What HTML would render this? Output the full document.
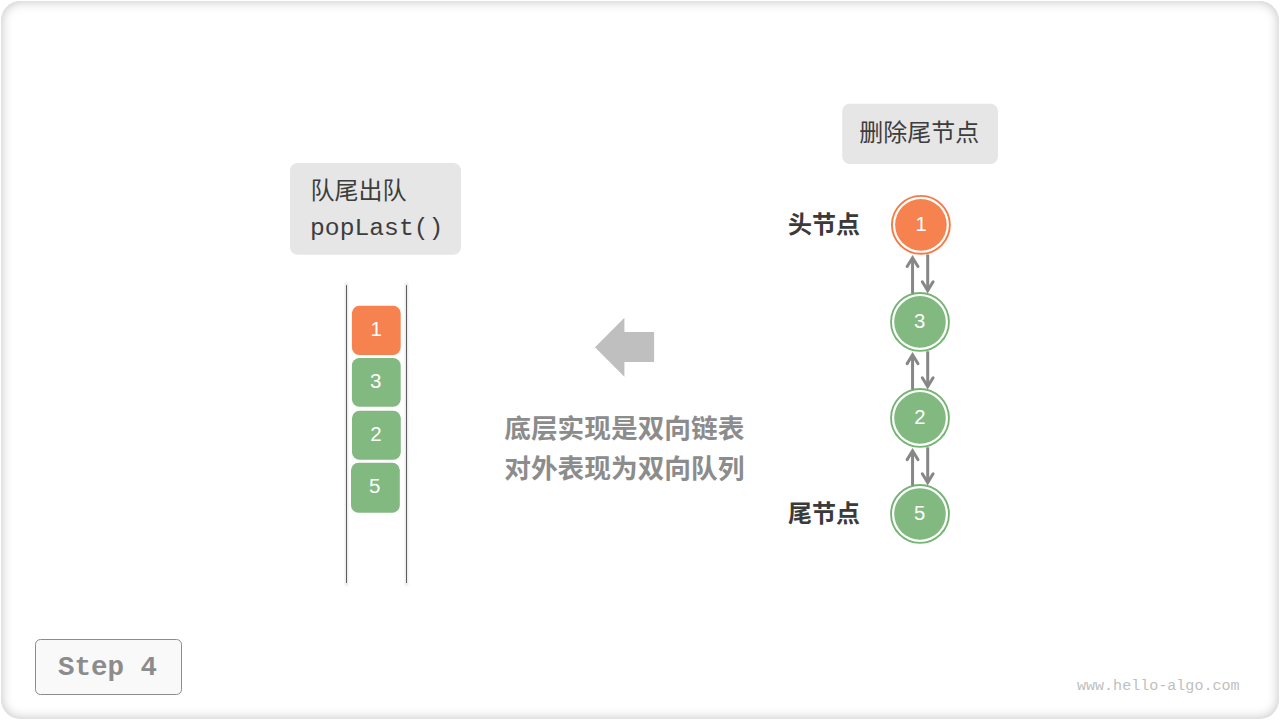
<!DOCTYPE html>
<html lang="zh"><head><meta charset="utf-8"><title>popLast</title>
<style>
html,body{margin:0;padding:0;background:#fff;width:1280px;height:720px;overflow:hidden;font-family:"Liberation Sans",sans-serif}
#card{position:absolute;left:1px;top:1px;width:1278px;height:717.5px;border-radius:19.5px;background:#fff;box-shadow:inset 0 0 12px rgba(0,0,0,0.25)}
svg{position:absolute;left:0;top:0}
</style></head><body>
<div id="card"></div>
<svg width="1280" height="720" viewBox="0 0 1280 720" role="img" aria-label="队尾出队 popLast() · 删除尾节点 · 头节点 1 3 2 5 尾节点 · 底层实现是双向链表 对外表现为双向队列 · Step 4 · www.hello-algo.com">
<desc>Deque popLast step 4: linked list 1-3-2-5, remove tail node</desc>
<rect x="290" y="163" width="171" height="91.7" rx="7.5" fill="#e6e6e6"/>
<text x="310.5" y="198.5" font-size="24" fill="#3d3d3d" font-family='"Liberation Sans", "Noto Sans CJK SC", sans-serif'>队尾出队</text>
<text x="310" y="234.6" font-size="24.7" fill="#3d3d3d" font-family='"Liberation Mono", monospace'>popLast()</text>
<path d="M346.5 284V584.5M406.5 284V584.5" stroke="#000" stroke-opacity="0.03" stroke-width="5" stroke-linecap="round" fill="none"/>
<path d="M346.5 284.6V583.8M406.5 284.6V583.8" stroke="#000" stroke-opacity="0.04" stroke-width="3" stroke-linecap="round" fill="none"/>
<path d="M346.5 285.2V583M406.5 285.2V583" stroke="#5e5e5e" stroke-width="1" fill="none"/>
<rect x="351.9" y="305.8" width="48.8" height="49.1" rx="7.5" fill="#f68250"/>
<text x="376.2" y="336.1" font-size="20.5" fill="#fff" text-anchor="middle" font-family='"Liberation Sans", sans-serif'>1</text>
<rect x="351.9" y="358.0" width="48.8" height="48.8" rx="7.5" fill="#82b980"/>
<text x="375.7" y="388.3" font-size="20.5" fill="#fff" text-anchor="middle" font-family='"Liberation Sans", sans-serif'>3</text>
<rect x="352.0" y="410.8" width="48.8" height="48.9" rx="7.5" fill="#82b980"/>
<text x="376" y="441.1" font-size="20.5" fill="#fff" text-anchor="middle" font-family='"Liberation Sans", sans-serif'>2</text>
<rect x="351.0" y="462.8" width="48.8" height="50.0" rx="7.5" fill="#82b980"/>
<text x="374.8" y="493.1" font-size="20.5" fill="#fff" text-anchor="middle" font-family='"Liberation Sans", sans-serif'>5</text>
<path d="M595 347.2L624.4 317.7V332.1H654.1V361.9H624.4V376.7Z" fill="#bfbfbf"/>
<text x="624.3" y="437.5" font-size="26.7" font-weight="bold" fill="#8c8c8c" text-anchor="middle" font-family='"Liberation Sans", "Noto Sans CJK SC", sans-serif'>底层实现是双向链表</text>
<text x="624.3" y="477.5" font-size="26.7" font-weight="bold" fill="#8c8c8c" text-anchor="middle" font-family='"Liberation Sans", "Noto Sans CJK SC", sans-serif'>对外表现为双向队列</text>
<rect x="842.2" y="103.8" width="155.8" height="60.1" rx="7.5" fill="#e6e6e6"/>
<text x="919.3" y="140.5" font-size="24" fill="#3d3d3d" text-anchor="middle" font-family='"Liberation Sans", "Noto Sans CJK SC", sans-serif'>删除尾节点</text>
<circle cx="920.9" cy="224.85" r="28.95" fill="#fff" stroke="#f57a45" stroke-width="1.9"/>
<circle cx="920.9" cy="224.85" r="25.8" fill="#f68250"/>
<text x="921.1" y="230.7" font-size="20.3" fill="#fff" text-anchor="middle" font-family='"Liberation Sans", sans-serif'>1</text>
<circle cx="920.0" cy="321.9" r="28.95" fill="#fff" stroke="#73b471" stroke-width="1.9"/>
<circle cx="920.0" cy="321.9" r="25.8" fill="#82b980"/>
<text x="919.7" y="327.8" font-size="20.3" fill="#fff" text-anchor="middle" font-family='"Liberation Sans", sans-serif'>3</text>
<circle cx="920.0" cy="417.9" r="28.95" fill="#fff" stroke="#73b471" stroke-width="1.9"/>
<circle cx="920.0" cy="417.9" r="25.8" fill="#82b980"/>
<text x="919.8" y="423.75" font-size="20.3" fill="#fff" text-anchor="middle" font-family='"Liberation Sans", sans-serif'>2</text>
<circle cx="920.0" cy="513.95" r="28.95" fill="#fff" stroke="#73b471" stroke-width="1.9"/>
<circle cx="920.0" cy="513.95" r="25.8" fill="#82b980"/>
<text x="919.7" y="519.8" font-size="20.3" fill="#fff" text-anchor="middle" font-family='"Liberation Sans", sans-serif'>5</text>
<path d="M912.55 293.54V257.77" stroke="#878787" stroke-width="3" fill="none"/>
<path d="M907.15 266.57L912.55 257.77L917.95 266.57" stroke="#878787" stroke-width="3" fill="none" stroke-linecap="round" stroke-linejoin="miter" stroke-miterlimit="10"/>
<path d="M927.7 254.47V290.58" stroke="#878787" stroke-width="3" fill="none"/>
<path d="M922.30 281.78L927.7 290.58L933.10 281.78" stroke="#878787" stroke-width="3" fill="none" stroke-linecap="round" stroke-linejoin="miter" stroke-miterlimit="10"/>
<path d="M912.55 389.54V354.82" stroke="#878787" stroke-width="3" fill="none"/>
<path d="M907.15 363.62L912.55 354.82L917.95 363.62" stroke="#878787" stroke-width="3" fill="none" stroke-linecap="round" stroke-linejoin="miter" stroke-miterlimit="10"/>
<path d="M927.7 351.29V386.58" stroke="#878787" stroke-width="3" fill="none"/>
<path d="M922.30 377.78L927.7 386.58L933.10 377.78" stroke="#878787" stroke-width="3" fill="none" stroke-linecap="round" stroke-linejoin="miter" stroke-miterlimit="10"/>
<path d="M912.55 485.59V450.82" stroke="#878787" stroke-width="3" fill="none"/>
<path d="M907.15 459.62L912.55 450.82L917.95 459.62" stroke="#878787" stroke-width="3" fill="none" stroke-linecap="round" stroke-linejoin="miter" stroke-miterlimit="10"/>
<path d="M927.7 447.29V482.63" stroke="#878787" stroke-width="3" fill="none"/>
<path d="M922.30 473.83L927.7 482.63L933.10 473.83" stroke="#878787" stroke-width="3" fill="none" stroke-linecap="round" stroke-linejoin="miter" stroke-miterlimit="10"/>
<text x="788" y="232.7" font-size="24" font-weight="bold" fill="#3a3a3a" font-family='"Liberation Sans", "Noto Sans CJK SC", sans-serif'>头节点</text>
<text x="788" y="521.6" font-size="24" font-weight="bold" fill="#3a3a3a" font-family='"Liberation Sans", "Noto Sans CJK SC", sans-serif'>尾节点</text>
<rect x="35.5" y="639.5" width="146" height="55" rx="5" fill="#f9f9f9" stroke="#8c8c8c" stroke-width="1"/>
<text x="58" y="674.6" font-size="27.5" font-weight="bold" fill="#8c8c8c" font-family='"Liberation Mono", monospace'>Step 4</text>
<text x="1077" y="689.8" font-size="15.05" fill="#bfbfbf" font-family='"Liberation Mono", monospace'>www.hello-algo.com</text>
</svg>
</body></html>
